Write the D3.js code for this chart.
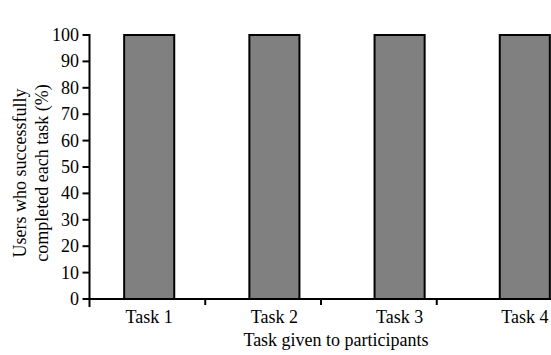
<!DOCTYPE html>
<html><head><meta charset="utf-8">
<script src="https://cdn.jsdelivr.net/npm/d3@7/dist/d3.min.js"></script>
</head>
<body style="margin:0">
<svg id="s" width="551" height="355"></svg>
<script>
// Share of users completing each task
const tasks = ["Task 1", "Task 2", "Task 3", "Task 4"];
const completed = [100, 100, 100, 100];
const yTicks = [0, 10, 20, 30, 40, 50, 60, 70, 80, 90, 100];
const yTitleLines = ["Users who successfully", "completed each task (%)"];
const xTitle = "Task given to participants";

const W = 551;
const FF = "Liberation Serif";
const FS = 18;
const svg = d3.select("#s");

const y = d3.scaleLinear().domain([0, 100]).range([299, 35]);

// separators between task groups
const xGroup = d3.scaleBand().domain(tasks).range([89.5, 552.5]).padding(0);

// bar positions
const xBar = d3.scaleBand().domain(tasks).range([86.6, 587.4])
  .paddingInner(0.6).paddingOuter(0.3);

// bars
svg.append("g").selectAll("rect")
  .data(tasks)
  .join("rect")
  .attr("x", d => xBar(d))
  .attr("y", (d, i) => y(completed[i]))
  .attr("width", xBar.bandwidth())
  .attr("height", (d, i) => y(0) - y(completed[i]))
  .attr("fill", "#808080")
  .attr("stroke", "#000")
  .attr("stroke-width", 2);

// y axis line, ticks and labels
svg.append("line").attr("x1", 89.5).attr("x2", 89.5).attr("y1", 34).attr("y2", 307)
  .attr("stroke", "#000").attr("stroke-width", 2);
svg.selectAll("line.ytick")
  .data(yTicks)
  .join("line")
  .attr("class", "ytick")
  .attr("x1", 82.5).attr("x2", 89.5)
  .attr("y1", d => y(d)).attr("y2", d => y(d))
  .attr("stroke", "#000").attr("stroke-width", 2);
svg.selectAll("text.ylab")
  .data(yTicks)
  .join("text")
  .attr("class", "ylab")
  .attr("x", 79)
  .attr("y", d => y(d) + 6)
  .attr("text-anchor", "end")
  .attr("font-family", FF).attr("font-size", FS)
  .text(d => d);

// x axis baseline and group separators
svg.append("line").attr("x1", 86).attr("x2", W).attr("y1", y(0)).attr("y2", y(0))
  .attr("stroke", "#000").attr("stroke-width", 2);
svg.selectAll("line.sep")
  .data(tasks.slice(1))
  .join("line")
  .attr("class", "sep")
  .attr("x1", d => xGroup(d)).attr("x2", d => xGroup(d))
  .attr("y1", y(0)).attr("y2", y(0) + 6)
  .attr("stroke", "#000").attr("stroke-width", 2);

// category labels
svg.selectAll("text.cat")
  .data(tasks)
  .join("text")
  .attr("class", "cat")
  .attr("x", d => xBar(d) + xBar.bandwidth() / 2)
  .attr("y", y(0) + 24)
  .attr("text-anchor", "middle")
  .attr("font-family", FF).attr("font-size", FS)
  .text(d => d);

// axis titles
svg.append("text")
  .attr("x", 336).attr("y", 346)
  .attr("text-anchor", "middle")
  .attr("font-family", FF).attr("font-size", FS)
  .text(xTitle);

svg.append("g")
  .attr("transform", "translate(26,173) rotate(-90)")
  .selectAll("text")
  .data(yTitleLines)
  .join("text")
  .attr("x", 0)
  .attr("y", (d, i) => i * 21.5)
  .attr("text-anchor", "middle")
  .attr("font-family", FF).attr("font-size", FS)
  .text(d => d);
</script>
</body></html>
